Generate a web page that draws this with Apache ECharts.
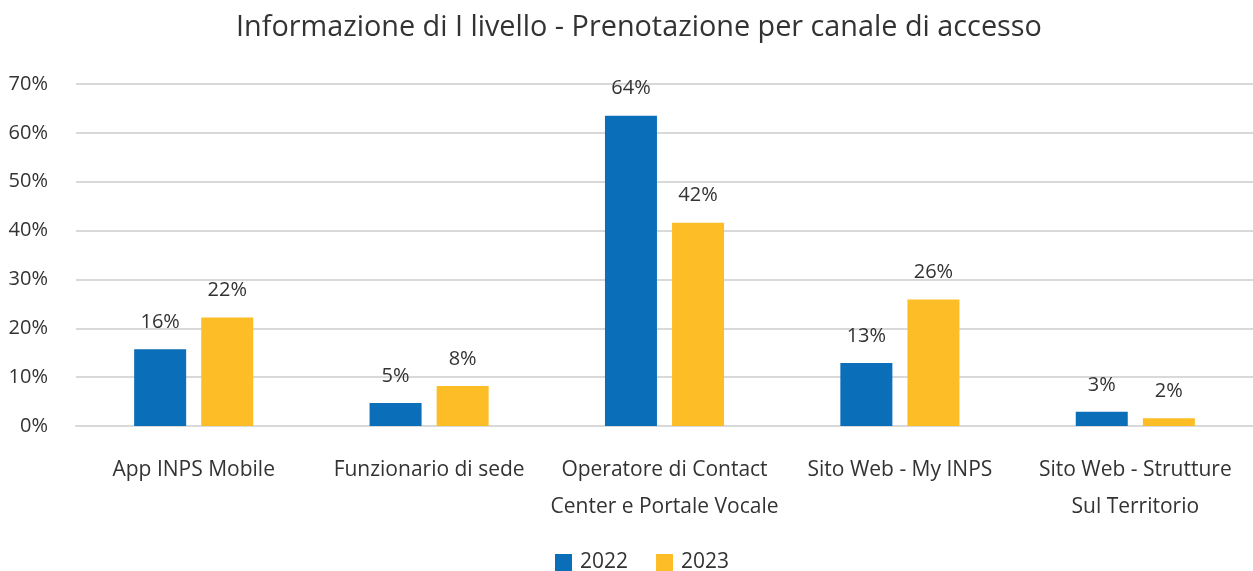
<!DOCTYPE html>
<html>
<head>
<meta charset="utf-8">
<script src="https://cdn.jsdelivr.net/npm/echarts@6/dist/echarts.min.js"></script>
<style>
  html, body { margin: 0; padding: 0; background: #fff; }
  #chart { width: 1253px; height: 571px; }
</style>
</head>
<body>
<div id="chart"></div>
<script>
const categories = [
  'App INPS Mobile',
  'Funzionario di sede',
  'Operatore di Contact\nCenter e Portale Vocale',
  'Sito Web - My INPS',
  'Sito Web - Strutture\nSul Territorio'
]
const values2022 = [15.7, 4.7, 63.5, 12.9, 2.9]
const values2023 = [22.2, 8.2, 41.6, 25.9, 1.6]
const yTicks = [0, 10, 20, 30, 40, 50, 60, 70]

const BLUE = '#0A6EB9'
const YELLOW = '#FDBD26'
const TEXT = '#333333'
const FONT = '"Open Sans", sans-serif'

const chart = echarts.init(document.getElementById('chart'))

const barLabel = {
  show: true,
  position: 'top',
  distance: 17,
  color: TEXT,
  fontSize: 20,
  fontFamily: FONT,
  formatter: (p) => Math.round(p.value) + '%',
}

chart.setOption({
  animation: false,
  title: {
    text: 'Informazione di I livello - Prenotazione per canale di accesso',
    left: 231,
    top: 8,
    textStyle: { color: TEXT, fontSize: 28.8, fontWeight: 'normal', fontFamily: FONT },
  },
  legend: {
    top: 547,
    left: 550,
    icon: 'rect',
    itemWidth: 17,
    itemHeight: 17,
    itemGap: 28,
    textStyle: { color: TEXT, fontSize: 21, fontFamily: FONT, padding: [0, 0, 0, 3] },
    data: ['2022', '2023'],
  },
  grid: { left: 76, right: 0, top: 84, bottom: 145 },
  xAxis: {
    type: 'category',
    data: categories,
    axisLine: { show: true, lineStyle: { color: '#d9d9d9', width: 2 } },
    axisTick: { show: false },
    axisLabel: {
      color: TEXT,
      fontSize: 21,
      fontFamily: FONT,
      margin: 26,
      lineHeight: 37,
      interval: 0,
    },
  },
  yAxis: {
    type: 'value',
    min: yTicks[0],
    max: yTicks[yTicks.length - 1],
    interval: 10,
    axisLine: { show: false },
    axisTick: { show: false },
    splitLine: { lineStyle: { color: '#d9d9d9', width: 2 } },
    axisLabel: {
      color: TEXT,
      fontSize: 20,
      fontFamily: FONT,
      margin: 28,
      formatter: (v) => v + '%',
    },
  },
  series: [
    {
      name: '2022',
      type: 'bar',
      data: values2022,
      barWidth: 52,
      barGap: '29%',
      itemStyle: { color: BLUE },
      label: barLabel,
    },
    {
      name: '2023',
      type: 'bar',
      data: values2023,
      barWidth: 52,
      itemStyle: { color: YELLOW },
      label: barLabel,
    },
  ],
})
</script>
</body>
</html>
